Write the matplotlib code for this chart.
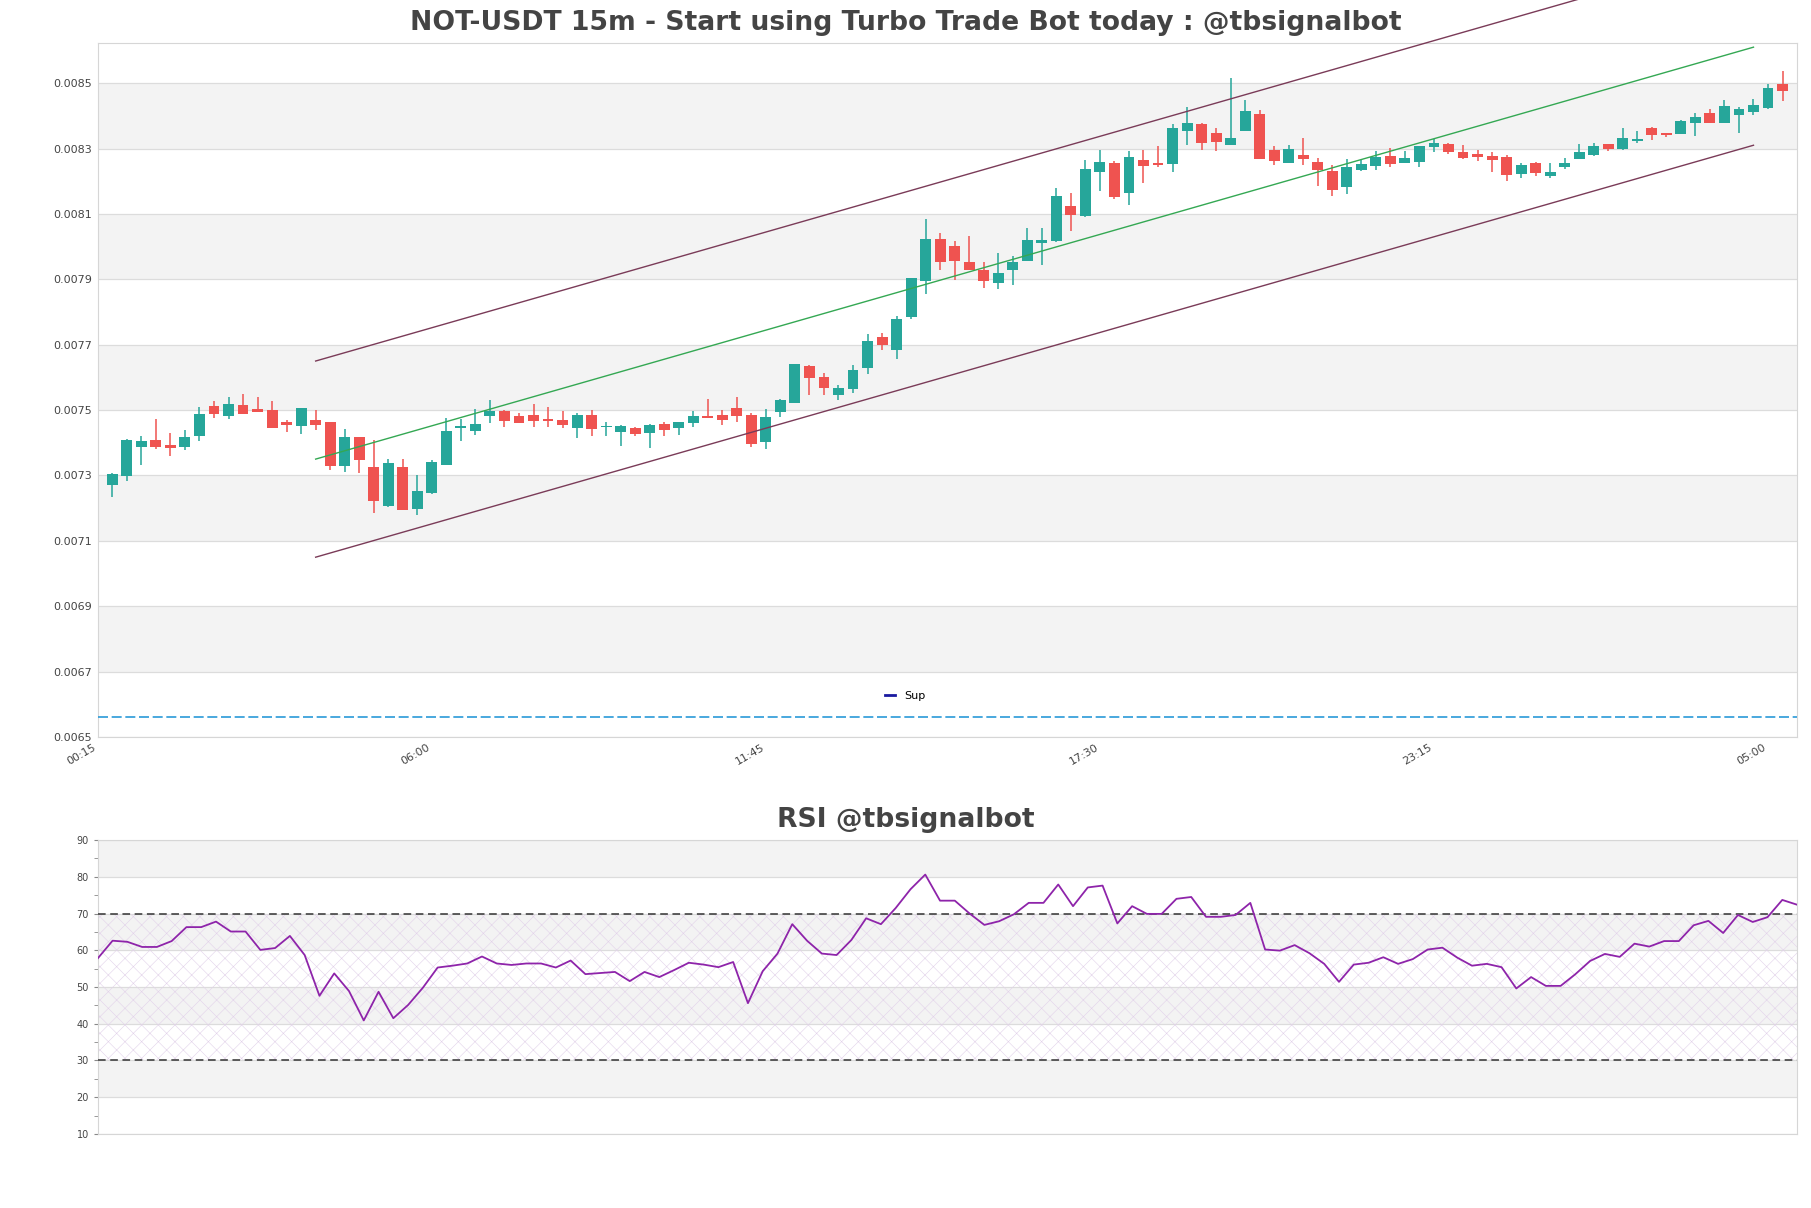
import numpy as np
import pandas as pd
import matplotlib
matplotlib.use('Agg')
import matplotlib.pyplot as plt
from matplotlib.lines import Line2D

# candle data (15m)
opens = [0.007270, 0.007299, 0.007388, 0.007408, 0.007393, 0.007388, 0.007421, 0.007512, 0.007483, 0.007515,
         0.007503, 0.007500, 0.007463, 0.007452, 0.007469, 0.007463, 0.007330, 0.007417, 0.007326, 0.007206,
         0.007326, 0.007198, 0.007246, 0.007333, 0.007446, 0.007437, 0.007483, 0.007497, 0.007482, 0.007485,
         0.007472, 0.007469, 0.007446, 0.007485, 0.007448, 0.007434, 0.007444, 0.007431, 0.007457, 0.007446,
         0.007461, 0.007482, 0.007485, 0.007506, 0.007485, 0.007403, 0.007493, 0.007523, 0.007635, 0.007601,
         0.007547, 0.007565, 0.007630, 0.007723, 0.007685, 0.007786, 0.007896, 0.008023, 0.008002, 0.007953,
         0.007929, 0.007890, 0.007927, 0.007957, 0.008010, 0.008017, 0.008124, 0.008094, 0.008227, 0.008256,
         0.008165, 0.008265, 0.008256, 0.008254, 0.008355, 0.008376, 0.008348, 0.008312, 0.008355, 0.008406,
         0.008295, 0.008257, 0.008281, 0.008259, 0.008232, 0.008181, 0.008234, 0.008247, 0.008276, 0.008256,
         0.008259, 0.008305, 0.008313, 0.008289, 0.008283, 0.008276, 0.008273, 0.008222, 0.008255, 0.008216,
         0.008243, 0.008268, 0.008280, 0.008313, 0.008298, 0.008324, 0.008363, 0.008347, 0.008345, 0.008379,
         0.008409, 0.008379, 0.008404, 0.008413, 0.008424, 0.008498]
highs = [0.007306, 0.007410, 0.007420, 0.007472, 0.007430, 0.007439, 0.007509, 0.007528, 0.007540, 0.007549,
         0.007540, 0.007528, 0.007469, 0.007506, 0.007500, 0.007463, 0.007442, 0.007417, 0.007408, 0.007350,
         0.007350, 0.007300, 0.007347, 0.007476, 0.007472, 0.007503, 0.007531, 0.007500, 0.007490, 0.007518,
         0.007509, 0.007497, 0.007490, 0.007500, 0.007463, 0.007454, 0.007447, 0.007457, 0.007463, 0.007463,
         0.007497, 0.007534, 0.007500, 0.007540, 0.007490, 0.007503, 0.007534, 0.007640, 0.007638, 0.007612,
         0.007577, 0.007638, 0.007733, 0.007736, 0.007789, 0.007904, 0.008085, 0.008041, 0.008017, 0.008031,
         0.007952, 0.007980, 0.007971, 0.008057, 0.008057, 0.008180, 0.008164, 0.008265, 0.008295, 0.008262,
         0.008291, 0.008295, 0.008309, 0.008375, 0.008428, 0.008379, 0.008363, 0.008516, 0.008449, 0.008418,
         0.008308, 0.008311, 0.008332, 0.008272, 0.008249, 0.008268, 0.008265, 0.008292, 0.008301, 0.008292,
         0.008307, 0.008329, 0.008316, 0.008310, 0.008295, 0.008289, 0.008279, 0.008255, 0.008258, 0.008255,
         0.008270, 0.008313, 0.008316, 0.008313, 0.008363, 0.008353, 0.008366, 0.008347, 0.008387, 0.008409,
         0.008421, 0.008449, 0.008427, 0.008452, 0.008498, 0.008538]
lows = [0.007235, 0.007284, 0.007332, 0.007381, 0.007360, 0.007378, 0.007405, 0.007477, 0.007472, 0.007489,
        0.007495, 0.007446, 0.007434, 0.007427, 0.007439, 0.007317, 0.007311, 0.007308, 0.007186, 0.007204,
        0.007195, 0.007180, 0.007243, 0.007333, 0.007405, 0.007423, 0.007460, 0.007449, 0.007461, 0.007449,
        0.007449, 0.007446, 0.007415, 0.007421, 0.007421, 0.007391, 0.007421, 0.007385, 0.007421, 0.007424,
        0.007449, 0.007477, 0.007455, 0.007464, 0.007388, 0.007382, 0.007480, 0.007523, 0.007546, 0.007546,
        0.007531, 0.007553, 0.007611, 0.007685, 0.007657, 0.007780, 0.007856, 0.007927, 0.007899, 0.007927,
        0.007874, 0.007871, 0.007884, 0.007957, 0.007944, 0.008014, 0.008049, 0.008092, 0.008171, 0.008147,
        0.008126, 0.008196, 0.008245, 0.008227, 0.008312, 0.008294, 0.008291, 0.008312, 0.008355, 0.008269,
        0.008251, 0.008257, 0.008251, 0.008184, 0.008156, 0.008162, 0.008231, 0.008234, 0.008244, 0.008256,
        0.008244, 0.008290, 0.008284, 0.008268, 0.008262, 0.008228, 0.008200, 0.008210, 0.008216, 0.008210,
        0.008237, 0.008268, 0.008276, 0.008292, 0.008295, 0.008316, 0.008325, 0.008336, 0.008343, 0.008339,
        0.008379, 0.008379, 0.008348, 0.008401, 0.008421, 0.008446]
closes = [0.007303, 0.007408, 0.007405, 0.007388, 0.007385, 0.007417, 0.007488, 0.007489, 0.007518, 0.007489,
          0.007495, 0.007446, 0.007455, 0.007506, 0.007455, 0.007330, 0.007417, 0.007348, 0.007222, 0.007338,
          0.007195, 0.007252, 0.007341, 0.007436, 0.007451, 0.007457, 0.007498, 0.007467, 0.007461, 0.007467,
          0.007466, 0.007454, 0.007485, 0.007443, 0.007450, 0.007451, 0.007428, 0.007454, 0.007440, 0.007463,
          0.007482, 0.007477, 0.007470, 0.007483, 0.007397, 0.007479, 0.007530, 0.007640, 0.007599, 0.007568,
          0.007567, 0.007623, 0.007711, 0.007700, 0.007779, 0.007904, 0.008023, 0.007954, 0.007957, 0.007927,
          0.007896, 0.007918, 0.007954, 0.008020, 0.008020, 0.008155, 0.008098, 0.008238, 0.008259, 0.008152,
          0.008274, 0.008248, 0.008251, 0.008363, 0.008379, 0.008318, 0.008321, 0.008332, 0.008415, 0.008269,
          0.008263, 0.008299, 0.008269, 0.008235, 0.008174, 0.008244, 0.008252, 0.008273, 0.008253, 0.008270,
          0.008307, 0.008316, 0.008290, 0.008271, 0.008274, 0.008266, 0.008219, 0.008249, 0.008225, 0.008227,
          0.008255, 0.008289, 0.008307, 0.008298, 0.008332, 0.008329, 0.008342, 0.008341, 0.008384, 0.008396,
          0.008379, 0.008430, 0.008421, 0.008433, 0.008486, 0.008477]

rsi = [57.8, 62.6, 62.3, 60.9, 60.9, 62.5, 66.3, 66.3, 67.8, 65.1,
       65.1, 60.1, 60.6, 63.9, 58.7, 47.6, 53.7, 48.9, 40.9, 48.7,
       41.5, 45.1, 49.8, 55.3, 55.8, 56.4, 58.3, 56.4, 56.0, 56.4,
       56.4, 55.3, 57.2, 53.5, 53.8, 54.1, 51.6, 54.1, 52.7, 54.6,
       56.6, 56.1, 55.4, 56.8, 45.6, 54.3, 59.1, 67.1, 62.6, 59.1,
       58.7, 62.8, 68.7, 67.1, 71.5, 76.6, 80.6, 73.5, 73.5, 70.0,
       66.9, 67.9, 69.8, 72.9, 72.9, 77.9, 72.0, 77.1, 77.6, 67.3,
       72.0, 69.9, 69.9, 74.0, 74.5, 69.1, 69.1, 69.6, 72.9, 60.2,
       59.9, 61.4, 59.2, 56.3, 51.4, 56.1, 56.6, 58.1, 56.3, 57.6,
       60.2, 60.7, 58.0, 55.8, 56.3, 55.4, 49.6, 52.7, 50.3, 50.3,
       53.5, 57.1, 59.0, 58.2, 61.8, 61.0, 62.5, 62.5, 66.8, 68.0,
       64.7, 69.6, 67.7, 69.0, 73.7, 72.4]

# regression channel (start idx, end idx) and mid values
chan_idx = [14, 113]
chan_mid = [0.007350, 0.008610]
chan_width = 0.000300
sup_level = 0.006562

start_time = pd.Timestamp('2024-06-10 00:30')
tick_pos = np.arange(-1, len(opens), 23)
tick_labels = [(start_time + pd.Timedelta(minutes=15 * int(p))).strftime('%H:%M') for p in tick_pos]

plt.rcParams['font.family'] = 'DejaVu Sans'
plt.rcParams['hatch.linewidth'] = 0.4

fig = plt.figure(figsize=(18.11, 12.08), dpi=100)
ax = fig.add_axes([0.054, 0.3899, 0.9383, 0.5743])
ax2 = fig.add_axes([0.054, 0.0613, 0.9383, 0.2433])

up_col = '#26a69a'
dn_col = '#ef5350'
grid_col = '#dcdcdc'
band_col = '#f3f3f3'
spine_col = '#d6d6d6'

# --- price panel
o = np.array(opens)
h = np.array(highs)
l = np.array(lows)
c = np.array(closes)
x = np.arange(len(o))
cols = np.where(c >= o, up_col, dn_col)

for lo in np.arange(0.0067, 0.0085, 0.0004):
    ax.axhspan(lo, lo + 0.0002, color=band_col, zorder=0, lw=0)
ax.vlines(x, l, h, colors=cols, lw=1.1, zorder=2)
body = np.maximum(np.abs(c - o), 0.000004)
ax.bar(x, body, bottom=np.minimum(o, c), width=0.75, color=cols, zorder=3)

ax.plot(chan_idx, chan_mid, color='#34a853', lw=1, zorder=4)
ax.plot(chan_idx, [v + chan_width for v in chan_mid], color='#7a3b58', lw=1, zorder=4, clip_on=False)
ax.plot(chan_idx, [v - chan_width for v in chan_mid], color='#7a3b58', lw=1, zorder=4)
ax.axhline(sup_level, color='#2a9ad8', lw=1.2, dashes=(6, 2.2), zorder=4)

leg_handle = Line2D([], [], color='#1a1aa0', lw=2)
ax.legend([leg_handle], ['Sup'], loc='center', bbox_to_anchor=(0.475, 0.059),
          frameon=False, fontsize=8, handlelength=0.9, handletextpad=0.8)

ax.set_xlim(-1, len(o))
ax.set_ylim(0.0065, 0.008622)
ax.set_yticks(np.arange(0.0065, 0.00851, 0.0002))
ax.set_yticklabels(['%.4f' % v for v in np.arange(0.0065, 0.00851, 0.0002)])
ax.set_xticks(tick_pos)
ax.set_xticklabels(tick_labels, rotation=30, ha='right')
ax.tick_params(axis='both', length=0, labelsize=8, labelcolor='#444444', pad=4)
ax.grid(axis='y', color=grid_col, lw=0.9)
ax.set_axisbelow(True)
for s in ax.spines.values():
    s.set_color(spine_col)

fig.text(0.5, 0.981, 'NOT-USDT 15m - Start using Turbo Trade Bot today : @tbsignalbot',
         ha='center', va='center', fontsize=19.2, fontweight='bold', color='#444444')

# --- RSI panel
xr = np.arange(len(rsi))
for lo in (20, 40, 60, 80):
    ax2.axhspan(lo, lo + 10, color=band_col, zorder=0, lw=0)
ax2.fill_between([0, len(rsi) - 1], 30, 70, facecolor='none', edgecolor='#e2d2ea',
                 hatch='xx', lw=0, zorder=1)
ax2.axhline(70, color='#333333', lw=1.1, dashes=(5, 3), zorder=3)
ax2.axhline(30, color='#333333', lw=1.1, dashes=(5, 3), zorder=3)
ax2.plot(xr, rsi, color='#8e24aa', lw=1.3, zorder=4)
ax2.set_xlim(0, len(rsi) - 1)
ax2.set_ylim(10, 90)
ax2.set_yticks(range(10, 91, 10))
ax2.set_yticks(range(15, 90, 10), minor=True)
ax2.set_xticks([])
ax2.tick_params(axis='y', which='both', length=3, color='#888888', labelsize=7, labelcolor='#444444')
ax2.grid(axis='y', color=grid_col, lw=0.9)
ax2.set_axisbelow(True)
for s in ax2.spines.values():
    s.set_color(spine_col)

fig.text(0.5, 0.321, 'RSI @tbsignalbot', ha='center', va='center',
         fontsize=19.2, fontweight='bold', color='#444444')

fig.savefig('out.png', dpi=100)
